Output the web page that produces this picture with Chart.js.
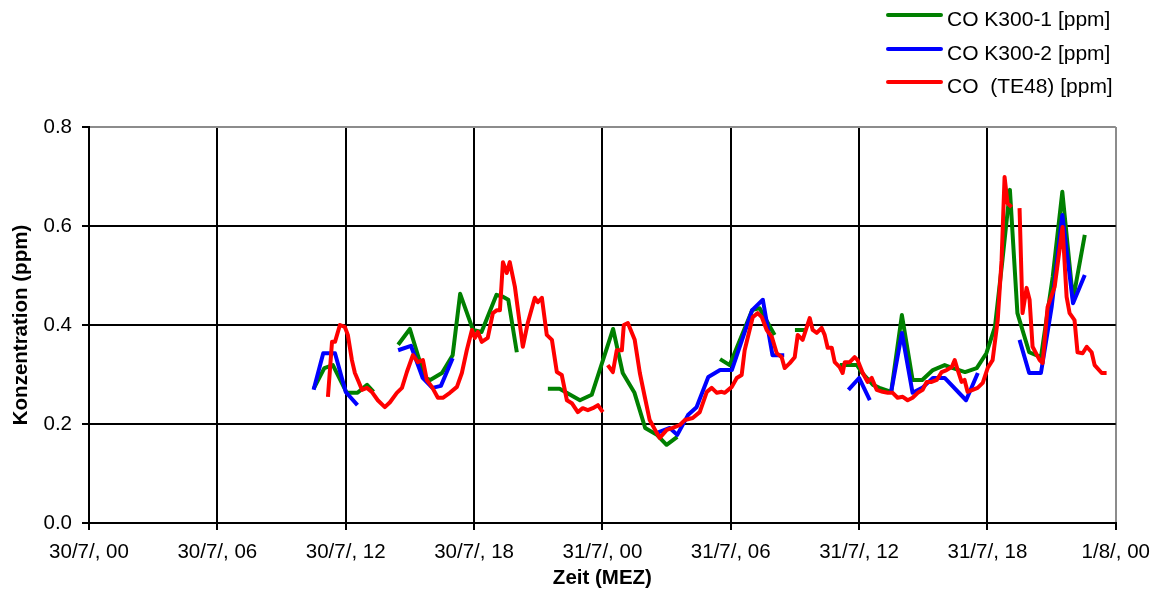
<!DOCTYPE html>
<html>
<head>
<meta charset="utf-8">
<script src="https://cdn.jsdelivr.net/npm/chart.js@4.4.1/dist/chart.umd.min.js"></script>
<style>
  html, body { margin: 0; padding: 0; background: #fff; }
  #wrap { position: relative; width: 1160px; height: 595px; }
  #c { position: absolute; left: 0; top: 0; }
  #legend { position: absolute; left: 0; top: 0; width: 1160px; height: 110px;
            font-family: "Liberation Sans", Arial, sans-serif; font-size: 21px; color: #000; }
  .row { position: absolute; left: 886px; height: 24px; white-space: pre; }
  .swatch { position: absolute; left: 0; width: 57px; height: 4px; border-radius: 2px; }
  .txt { position: absolute; left: 61px; top: 4px; line-height: 24px; }
</style>
</head>
<body>
<div id="wrap">
  <canvas id="c" width="1160" height="595"></canvas>
  <div id="legend"></div>
</div>
<script>
// Time axis: hours since 30/7 00:00 (MEZ)
const tickHours  = [0, 6, 12, 18, 24, 30, 36, 42, 48];
const tickLabels = ['30/7/, 00', '30/7/, 06', '30/7/, 12', '30/7/, 18', '31/7/, 00',
                    '31/7/, 06', '31/7/, 12', '31/7/, 18', '1/8/, 00'];

const seriesNames = ['CO K300-1 [ppm]', 'CO K300-2 [ppm]', 'CO  (TE48) [ppm]'];

// CO K300-1 (null value = no data, line break)
const k1Times  = [10.5, 11.0, 11.4, 12.05, 12.55, 13.0, 13.3, 13.9,
                  14.45, 15.0, 15.7, 15.95, 16.5, 17.0, 17.35, 17.95, 18.35, 19.05, 19.35, 19.6, 20.0, 20.7,
                  21.45, 22.0, 22.95, 23.5, 24.5, 24.95, 25.5, 26.0, 26.55, 27.0, 27.5, 28.5,
                  29.5, 29.95, 31.0, 31.35, 32.05, 32.5,
                  33.0, 33.55, 34.3,
                  35.1, 35.9, 36.15, 36.65, 36.95, 37.5, 38.0, 38.5, 38.95, 39.45, 40.0, 40.25, 40.95,
                  41.5, 41.95, 42.35, 42.7, 43.05, 43.4, 43.95, 44.5, 45.05, 45.5, 46.0, 46.55];
const k1Values = [0.271, 0.313, 0.319, 0.263, 0.263, 0.279, 0.265, null,
                  0.360, 0.392, 0.293, 0.289, 0.303, 0.339, 0.463, 0.390, 0.386, 0.461, 0.457, 0.451, 0.345, null,
                  0.271, 0.271, 0.248, 0.259, 0.392, 0.303, 0.263, 0.192, 0.178, 0.158, 0.174, null,
                  0.331, 0.319, 0.430, 0.434, 0.380, null,
                  0.390, 0.390, null,
                  0.319, 0.319, 0.303, 0.279, 0.273, 0.265, 0.420, 0.289, 0.289, 0.309, 0.319, 0.315, 0.305,
                  0.313, 0.343, 0.396, 0.531, 0.673, 0.424, 0.345, 0.335, 0.497, 0.669, 0.451, 0.582];

// CO K300-2
const k2Times  = [10.5, 10.95, 11.5, 12.0, 12.2, 12.55, 13.5,
                  14.45, 15.05, 15.6, 16.05, 16.45, 17.0, 20.0,
                  26.55, 27.15, 27.5, 28.0, 28.4, 28.95, 29.5, 30.05, 31.0, 31.5, 31.95, 32.5, 34.0,
                  35.5, 36.0, 36.5, 37.0,
                  37.5, 38.0, 38.5, 38.95, 39.45, 40.0, 41.0, 41.55, 42.5,
                  43.5, 43.95, 44.5, 45.0, 45.5, 46.0, 46.55];
const k2Values = [0.269, 0.343, 0.343, 0.265, 0.255, 0.238, null,
                  0.349, 0.358, 0.293, 0.273, 0.277, 0.333, null,
                  0.182, 0.192, 0.178, 0.218, 0.234, 0.295, 0.309, 0.309, 0.430, 0.451, 0.339, 0.339, null,
                  0.269, 0.293, 0.248, null,
                  0.265, 0.384, 0.263, 0.273, 0.293, 0.293, 0.248, 0.303, null,
                  0.370, 0.303, 0.303, 0.436, 0.622, 0.444, 0.501];

// CO (TE48)
const teTimes  = [11.17, 11.36, 11.50, 11.73, 11.96, 12.10, 12.29, 12.43, 12.57, 12.76, 12.99, 13.22, 13.50,
                  13.83, 14.07, 14.39, 14.63, 14.86, 15.14, 15.37, 15.61, 15.79, 16.03, 16.31, 16.54, 16.87,
                  17.20, 17.43, 17.66, 17.90, 18.04, 18.18, 18.36, 18.64, 18.88, 19.07, 19.21, 19.35, 19.53,
                  19.67, 19.91, 20.28, 20.51, 20.84, 20.98, 21.17, 21.40, 21.64, 21.87, 22.10, 22.34, 22.57,
                  22.85, 23.08, 23.32, 23.55, 23.79, 24.02, 24.14,
                  24.25, 24.49, 24.67, 24.91, 25.00, 25.19, 25.51, 25.75, 25.98, 26.21, 26.54, 26.68, 27.01,
                  27.29, 27.62, 27.85, 28.22, 28.55, 28.88, 29.11, 29.35, 29.58, 29.72, 30.05, 30.28, 30.51,
                  30.65, 31.03, 31.26, 31.45, 31.68, 31.92, 32.15, 32.38, 32.52, 32.76, 32.99, 33.13, 33.36,
                  33.69, 33.83, 34.02, 34.25, 34.39, 34.53, 34.72, 34.86, 35.09, 35.23, 35.33, 35.56, 35.79,
                  35.93, 36.17, 36.40, 36.59, 36.82, 37.10, 37.34, 37.57, 37.80, 38.04, 38.27, 38.50, 38.74,
                  38.97, 39.16, 39.39, 39.63, 39.86, 40.09, 40.33, 40.47, 40.61, 40.79, 40.93, 41.07, 41.31,
                  41.54, 41.78, 42.01, 42.24, 42.48, 42.66, 42.80, 42.94, 43.13, 43.3,
                  43.50, 43.64, 43.83, 43.97, 44.11, 44.44, 44.58, 44.81, 45.14, 45.51, 45.70, 45.84, 46.07,
                  46.21, 46.45, 46.64, 46.87, 47.01, 47.34, 47.57];
const teValues = [0.255, 0.366, 0.366, 0.400, 0.396, 0.380, 0.329, 0.303, 0.289, 0.269, 0.273, 0.265, 0.248,
                  0.234, 0.244, 0.263, 0.273, 0.305, 0.339, 0.325, 0.329, 0.289, 0.275, 0.253, 0.253, 0.263,
                  0.275, 0.303, 0.349, 0.390, 0.374, 0.386, 0.366, 0.374, 0.424, 0.430, 0.430, 0.527, 0.505,
                  0.527, 0.477, 0.356, 0.404, 0.455, 0.446, 0.455, 0.380, 0.370, 0.305, 0.299, 0.248, 0.242,
                  0.224, 0.232, 0.228, 0.232, 0.238, 0.224, null,
                  0.319, 0.305, 0.349, 0.349, 0.400, 0.404, 0.370, 0.303, 0.255, 0.208, 0.182, 0.172, 0.188,
                  0.192, 0.198, 0.208, 0.212, 0.224, 0.265, 0.273, 0.263, 0.265, 0.263, 0.275, 0.293, 0.299,
                  0.349, 0.416, 0.424, 0.416, 0.390, 0.376, 0.343, 0.335, 0.313, 0.323, 0.335, 0.380, 0.370,
                  0.414, 0.390, 0.384, 0.394, 0.380, 0.354, 0.354, 0.325, 0.315, 0.303, 0.325, 0.325, 0.335,
                  0.329, 0.303, 0.285, 0.293, 0.269, 0.265, 0.263, 0.263, 0.253, 0.255, 0.248, 0.253, 0.263,
                  0.269, 0.285, 0.285, 0.289, 0.305, 0.309, 0.315, 0.329, 0.309, 0.285, 0.289, 0.265, 0.269,
                  0.273, 0.283, 0.313, 0.329, 0.410, 0.531, 0.699, 0.646, 0.638, null,
                  0.636, 0.424, 0.475, 0.451, 0.356, 0.329, 0.323, 0.436, 0.477, 0.598, 0.457, 0.424, 0.410,
                  0.345, 0.343, 0.356, 0.345, 0.319, 0.303, 0.303];

const yTicks = [0, 0.2, 0.4, 0.6, 0.8];

const FONT = '"Liberation Sans", Arial, Helvetica, sans-serif';
const GREEN = '#008000', BLUE = '#0000FF', RED = '#FF0000';
const EDGE_GRAY = '#8c8c8c';

function points(times, values) {
  return times.map((t, i) => ({ x: t, y: values[i] }));
}

function lineSet(label, times, values, color, order) {
  return {
    label, data: points(times, values), borderColor: color, backgroundColor: color,
    borderWidth: 4, pointRadius: 0, pointHoverRadius: 0, tension: 0, spanGaps: false,
    borderJoinStyle: 'round', borderCapStyle: 'butt', fill: false, order
  };
}

const datasets = [
  lineSet(seriesNames[0], k1Times, k1Values, GREEN, 2),
  lineSet(seriesNames[1], k2Times, k2Values, BLUE, 1),
  lineSet(seriesNames[2], teTimes, teValues, RED, 0)
];

const chart = new Chart(document.getElementById('c'), {
  type: 'line',
  data: { datasets },
  options: {
    responsive: false,
    animation: false,
    devicePixelRatio: 1,
    layout: { padding: { top: 127, right: 44, left: 0, bottom: 0 } },
    plugins: { legend: { display: false }, tooltip: { enabled: false } },
    scales: {
      x: {
        type: 'linear', min: 0, max: 48,
        afterBuildTicks: s => { s.ticks = tickHours.map(v => ({ value: v })); },
        afterFit: s => { s.height = 72; },
        ticks: {
          autoSkip: false, maxRotation: 0, minRotation: 0, padding: 10, color: '#000',
          font: { family: FONT, size: 20.5 },
          callback: (v, i) => tickLabels[i]
        },
        grid: {
          color: c => (c.tick && c.tick.value === 48 ? EDGE_GRAY : '#000'),
          tickColor: '#000', lineWidth: 2, tickLength: 7, drawTicks: true
        },
        border: { display: true, color: '#000', width: 2 },
        title: {
          display: true, text: 'Zeit (MEZ)', color: '#000',
          font: { family: FONT, size: 20.5, weight: 'bold' }, padding: { top: 0, bottom: 4 }
        }
      },
      y: {
        type: 'linear', min: 0, max: 0.8,
        afterBuildTicks: s => { s.ticks = yTicks.map(v => ({ value: v })); },
        afterFit: s => { s.width = 89; },
        ticks: {
          padding: 10, color: '#000', font: { family: FONT, size: 20.5 },
          callback: v => Number(v).toFixed(1)
        },
        grid: {
          color: c => (c.tick && Math.abs(c.tick.value - 0.8) < 1e-9 ? EDGE_GRAY : '#000'),
          tickColor: '#000', lineWidth: 2, tickLength: 7, drawTicks: true
        },
        border: { display: true, color: '#000', width: 2 },
        title: {
          display: true, text: 'Konzentration (ppm)', color: '#000',
          font: { family: FONT, size: 20.5, weight: 'bold' }, padding: { top: 9, bottom: 0 }
        }
      }
    }
  }
});

// Legend stacked at the top right, built from the datasets
const legendEl = document.getElementById('legend');
const rowTops = [3, 37, 70];
chart.data.datasets.forEach((ds, i) => {
  const row = document.createElement('div');
  row.className = 'row';
  row.style.top = rowTops[i] + 'px';
  const sw = document.createElement('span');
  sw.className = 'swatch';
  sw.style.background = ds.borderColor;
  sw.style.top = '10px';
  const tx = document.createElement('span');
  tx.className = 'txt';
  tx.textContent = ds.label;
  row.appendChild(sw);
  row.appendChild(tx);
  legendEl.appendChild(row);
});
</script>
</body>
</html>
